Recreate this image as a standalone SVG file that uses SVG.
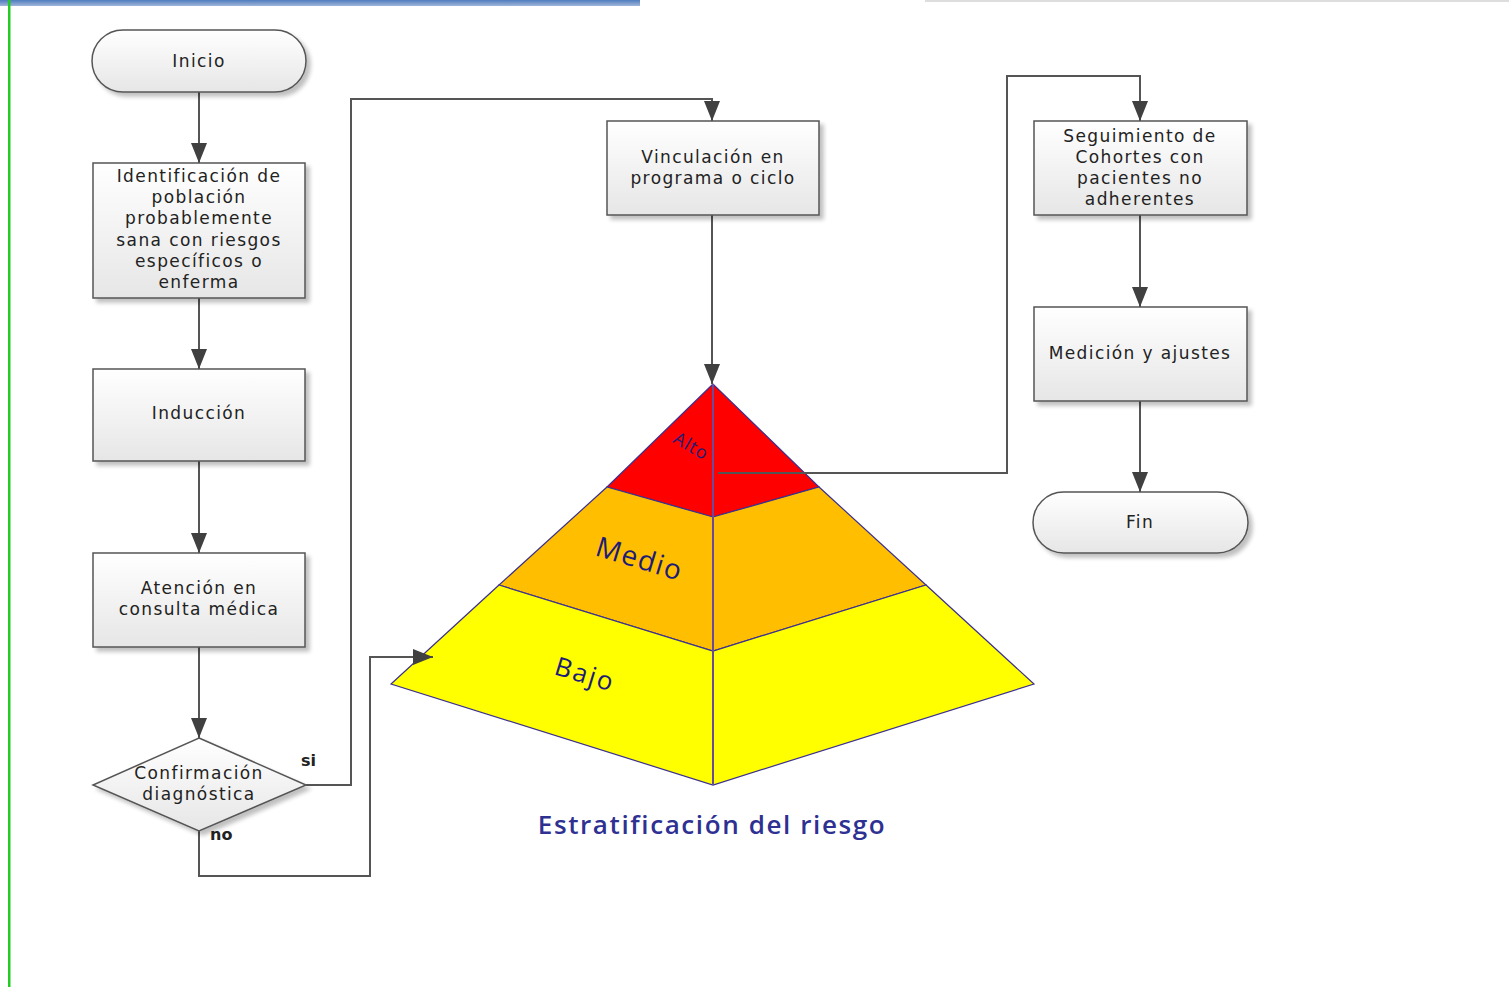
<svg xmlns="http://www.w3.org/2000/svg" width="1509" height="987" viewBox="0 0 1509 987">
<defs>
<linearGradient id="g" x1="0" y1="0" x2="0" y2="1"><stop offset="0" stop-color="#ffffff"/><stop offset="1" stop-color="#e6e6e6"/></linearGradient>
<linearGradient id="bar" x1="0" y1="0" x2="0" y2="1"><stop offset="0" stop-color="#4f7cbf"/><stop offset="1" stop-color="#9fb6d8"/></linearGradient>
<filter id="sh" x="-10%" y="-10%" width="130%" height="130%"><feGaussianBlur in="SourceAlpha" stdDeviation="2"/><feOffset dx="4" dy="4"/><feComponentTransfer><feFuncA type="linear" slope="0.25"/></feComponentTransfer><feMerge><feMergeNode/><feMergeNode in="SourceGraphic"/></feMerge></filter>
<marker id="a2" viewBox="0 0 20 16" refX="20" refY="8" markerWidth="20" markerHeight="16" markerUnits="userSpaceOnUse" orient="auto"><path d="M0,0 L20,8 L0,16 z" fill="#404040"/></marker>
</defs>
<style>
.n{fill:url(#g);stroke:#555;stroke-width:1.5;filter:url(#sh)}
.t{font-family:"DejaVu Sans",sans-serif;font-size:17px;letter-spacing:1.4px;fill:#222;text-anchor:middle}
.c{fill:none;stroke:#555;stroke-width:2;marker-end:url(#a2)}
.lb{font-family:"DejaVu Sans",sans-serif;font-size:16px;fill:#222;font-weight:bold}
.p{stroke:#3b2f8f;stroke-width:1.2}
.pl{font-family:"Open Sans",sans-serif;fill:#1c1c78}
</style>
<rect width="1509" height="987" fill="#fff"/>
<rect x="0" y="0" width="640" height="6" fill="url(#bar)"/>
<rect x="925" y="0" width="584" height="2" fill="#ddd"/>
<rect x="8" y="0" width="2.5" height="987" fill="#22cc22"/>

<g id="pyramid">
<polygon class="p" points="713,384 607,487 713,517 819,487" fill="#ff0000"/>
<polygon class="p" points="607,487 713,517 819,487 926,585 713,651 499,585" fill="#ffbf00"/>
<polygon class="p" points="499,585 713,651 926,585 1034,684 713,785 391,684" fill="#ffff00"/>
<line x1="713" y1="384" x2="713" y2="785" stroke="#6a4a9a" stroke-width="2"/>
<text class="pl" font-size="18" letter-spacing="1" transform="translate(672,442) rotate(30)" fill="#4b1a9a">Alto</text>
<text class="pl" font-size="28" letter-spacing="1.5" transform="translate(594,555) rotate(17)">Medio</text>
<text class="pl" font-size="26" letter-spacing="2" transform="translate(553,674) rotate(17)">Bajo</text>
<text x="712" y="834" font-family="Open Sans,sans-serif" font-size="26" font-weight="600" letter-spacing="1.6" fill="#2e3192" text-anchor="middle">Estratificación del riesgo</text>
</g>

<g id="connectors">
<path class="c" d="M199,92 V163"/>
<path class="c" d="M199,298 V369"/>
<path class="c" d="M199,461 V553"/>
<path class="c" d="M199,647 V738"/>
<path class="c" d="M306,785 H351 V99 H712 V121"/>
<path class="c" d="M199,831 V876 H370 V657 H433"/>
<path class="c" d="M712,215 V384"/>
<path class="c" d="M718,473 H1007 V76 H1140 V121"/>
<path class="c" d="M1140,215 V307"/>
<path class="c" d="M1140,401 V492"/>
<text class="lb" x="301" y="766">si</text>
<text class="lb" x="210" y="840">no</text>
</g>

<g id="inicio"><rect class="n" x="92" y="30" width="214" height="62" rx="31"/><text class="t" x="199" y="67">Inicio</text></g>
<g id="identificacion"><rect class="n" x="93" y="163" width="212" height="135"/>
<text class="t" x="199" y="182">Identificación de</text><text class="t" x="199" y="203">población</text><text class="t" x="199" y="224">probablemente</text><text class="t" x="199" y="246">sana con riesgos</text><text class="t" x="199" y="267">específicos o</text><text class="t" x="199" y="288">enferma</text></g>
<g id="induccion"><rect class="n" x="93" y="369" width="212" height="92"/><text class="t" x="199" y="419">Inducción</text></g>
<g id="atencion"><rect class="n" x="93" y="553" width="212" height="94"/><text class="t" x="199" y="594">Atención en</text><text class="t" x="199" y="615">consulta médica</text></g>
<g id="confirmacion"><polygon class="n" points="199,738 306,785 199,831 93,785"/><text class="t" x="199" y="779">Confirmación</text><text class="t" x="199" y="800">diagnóstica</text></g>
<g id="vinculacion"><rect class="n" x="607" y="121" width="212" height="94"/><text class="t" x="713" y="163">Vinculación en</text><text class="t" x="713" y="184">programa o ciclo</text></g>
<g id="seguimiento"><rect class="n" x="1034" y="121" width="213" height="94"/><text class="t" x="1140" y="142">Seguimiento de</text><text class="t" x="1140" y="163">Cohortes con</text><text class="t" x="1140" y="184">pacientes no</text><text class="t" x="1140" y="205">adherentes</text></g>
<g id="medicion"><rect class="n" x="1034" y="307" width="213" height="94"/><text class="t" x="1140" y="359">Medición y ajustes</text></g>
<g id="fin"><rect class="n" x="1033" y="492" width="215" height="61" rx="30.5"/><text class="t" x="1140" y="528">Fin</text></g>
</svg>
